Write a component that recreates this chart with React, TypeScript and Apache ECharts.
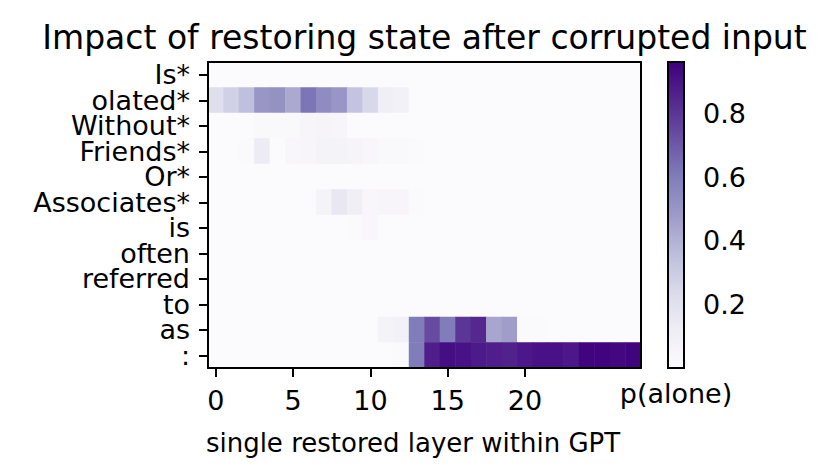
import React, { useEffect, useRef } from "react";
import * as echarts from "echarts";

const tokens = ["Is*", "olated*", "Without*", "Friends*", "Or*", "Associates*", "is", "often", "referred", "to", "as", ":"];
const layers = Array.from({ length: 28 }, (_, i) => String(i));
const shownLayerTicks = [0, 5, 10, 15, 20];
const colorbarTicks = [0.2, 0.4, 0.6, 0.8];
const vMin = 0;
const vMax = 0.962;

const e = 0.005;
const rowIs = [e, e, e, e, e, e, e, e, e, e, e, e, e, e, e, e, e, e, e, e, e, e, e, e, e, e, e, e];
const rowOlated = [0.21, 0.28, 0.35, 0.5, 0.52, 0.43, 0.62, 0.54, 0.5, 0.33, 0.25, 0.1, 0.09, e, e, e, e, e, e, e, e, e, e, e, e, e, e, e];
const rowWithout = [e, e, e, 0.03, 0.03, 0.03, 0.05, 0.06, 0.05, 0.01, 0.01, 0.01, 0.01, e, e, e, e, e, e, e, e, e, e, e, e, e, e, e];
const rowFriends = [e, e, 0.02, 0.13, e, 0.04, 0.05, 0.07, 0.07, 0.06, 0.04, 0.03, 0.03, 0.02, e, e, e, e, e, e, e, e, e, e, e, e, e, e];
const rowOr = [e, e, e, e, e, e, e, e, e, e, e, e, e, e, e, e, e, e, e, e, e, e, e, e, e, e, e, e];
const rowAssociates = [e, e, e, e, e, e, e, 0.07, 0.16, 0.1, 0.04, 0.05, 0.05, 0.02, e, e, e, e, e, e, e, e, e, e, e, e, e, e];
const rowIsLower = [e, e, e, e, e, e, e, e, e, 0.02, 0.04, e, e, e, e, e, e, e, e, e, e, e, e, e, e, e, e, e];
const rowOften = [e, e, e, e, e, e, e, e, e, e, e, e, e, e, e, e, e, e, e, e, e, e, e, e, e, e, e, e];
const rowReferred = [e, e, e, e, e, e, e, e, e, e, e, e, e, e, e, e, e, e, e, e, e, e, e, e, e, e, e, e];
const rowTo = [e, e, e, e, e, e, e, e, e, e, e, e, e, e, e, e, e, e, e, e, e, e, e, e, e, e, e, e];
const rowAs = [e, e, e, e, e, e, e, e, e, e, e, 0.07, 0.09, 0.6, 0.74, 0.6, 0.8, 0.84, 0.44, 0.47, 0.02, 0.02, e, e, e, e, e, e];
const rowColon = [e, e, e, e, e, e, e, e, e, e, e, 0.01, 0.02, 0.6, 0.87, 0.92, 0.91, 0.88, 0.87, 0.86, 0.89, 0.91, 0.91, 0.89, 0.95, 0.95, 0.94, 0.95];
const scores = [rowIs, rowOlated, rowWithout, rowFriends, rowOr, rowAssociates, rowIsLower, rowOften, rowReferred, rowTo, rowAs, rowColon];

const purples = ["#fcfbfd", "#efedf5", "#dadaeb", "#bcbddc", "#9e9ac8", "#807dba", "#6a51a3", "#54278f", "#3f007d"];

const FONT = "DejaVu Sans";
const TICK_FS = 27;

export default function App() {
  const ref = useRef<HTMLDivElement>(null);
  useEffect(() => {
    if (!ref.current) return;
    const chart = echarts.init(ref.current, null, { renderer: "svg" });
    const data: [number, number, number][] = [];
    scores.forEach((row, y) => row.forEach((v, x) => data.push([x, y, v])));

    const gL = 208, gT = 62, gW = 433, gH = 306;
    const cbL = 668, cbW = 16;

    chart.setOption({
      animation: false,
      backgroundColor: "#ffffff",
      textStyle: { fontFamily: FONT },
      grid: [
        { left: gL, top: gT, width: gW, height: gH, containLabel: false },
        { left: cbL, top: gT, width: cbW, height: gH, containLabel: false },
      ],
      xAxis: [
        {
          type: "category",
          data: layers,
          gridIndex: 0,
          position: "bottom",
          z: 10,
          axisLine: { show: true, lineStyle: { color: "#000", width: 2 } },
          axisTick: {
            show: true,
            alignWithLabel: true,
            length: 9,
            lineStyle: { color: "#000", width: 2 },
            interval: (i: number) => shownLayerTicks.includes(i),
          },
          axisLabel: {
            interval: (i: number) => shownLayerTicks.includes(i),
            fontSize: TICK_FS,
            color: "#000",
            fontFamily: FONT,
            margin: 19,
          },
          splitLine: { show: false },
        },
        {
          type: "category",
          data: layers,
          gridIndex: 0,
          position: "top",
          z: 10,
          axisLine: { show: true, lineStyle: { color: "#000", width: 2 } },
          axisTick: { show: false },
          axisLabel: { show: false },
        },
        {
          type: "value",
          gridIndex: 1,
          show: false,
          min: 0,
          max: 1,
        },
      ],
      yAxis: [
        {
          type: "category",
          data: tokens,
          gridIndex: 0,
          inverse: true,
          position: "left",
          z: 10,
          axisLine: { show: true, lineStyle: { color: "#000", width: 2 } },
          axisTick: { show: true, alignWithLabel: true, length: 9, lineStyle: { color: "#000", width: 2 } },
          axisLabel: { fontSize: TICK_FS, lineHeight: 24, color: "#000", fontFamily: FONT, margin: 18, interval: 0 },
          splitLine: { show: false },
        },
        {
          type: "category",
          data: tokens,
          gridIndex: 0,
          inverse: true,
          position: "right",
          z: 10,
          axisLine: { show: true, lineStyle: { color: "#000", width: 2 } },
          axisTick: { show: false },
          axisLabel: { show: false },
        },
        {
          type: "value",
          gridIndex: 1,
          position: "right",
          min: vMin,
          max: vMax,
          z: 10,
          axisLine: { show: false },
          axisTick: {
            show: true,
            length: 9,
            lineStyle: { color: "#000", width: 2 },
            customValues: colorbarTicks,
          },
          axisLabel: {
            fontSize: TICK_FS,
            color: "#000",
            fontFamily: FONT,
            margin: 19,
            customValues: colorbarTicks,
            formatter: (v: number) => v.toFixed(1),
          },
          splitLine: { show: false },
        },
      ],
      visualMap: {
        show: false,
        type: "continuous",
        min: vMin,
        max: vMax,
        seriesIndex: 0,
        dimension: 2,
        inRange: { color: purples },
      },
      series: [
        {
          type: "heatmap",
          xAxisIndex: 0,
          yAxisIndex: 0,
          data,
          itemStyle: { borderWidth: 0 },
          emphasis: { disabled: true },
        },
      ],
      graphic: [
        {
          type: "rect",
          z: 20,
          shape: { x: cbL, y: gT, width: cbW, height: gH },
          style: {
            fill: new echarts.graphic.LinearGradient(
              0, 1, 0, 0,
              purples.map((c, i) => ({ offset: i / (purples.length - 1), color: c }))
            ),
            stroke: "#000",
            lineWidth: 2,
          },
        },
        {
          type: "text",
          z: 20,
          x: 424.5,
          y: 37,
          style: {
            text: "Impact of restoring state after corrupted input",
            fontSize: 33,
            fontFamily: FONT,
            fill: "#000",
            textAlign: "center",
            textVerticalAlign: "middle",
          },
        },
        {
          type: "text",
          z: 20,
          x: 413,
          y: 443,
          style: {
            text: "single restored layer within GPT",
            fontSize: 26,
            fontFamily: FONT,
            fill: "#000",
            textAlign: "center",
            textVerticalAlign: "middle",
          },
        },
        {
          type: "text",
          z: 20,
          x: 676,
          y: 393,
          style: {
            text: "p(alone)",
            fontSize: 27,
            fontFamily: FONT,
            fill: "#000",
            textAlign: "center",
            textVerticalAlign: "middle",
          },
        },
      ],
    });
    return () => chart.dispose();
  }, []);
  return <div ref={ref} style={{ position: "fixed", left: 0, top: 0, width: 830, height: 473 }} />;
}
